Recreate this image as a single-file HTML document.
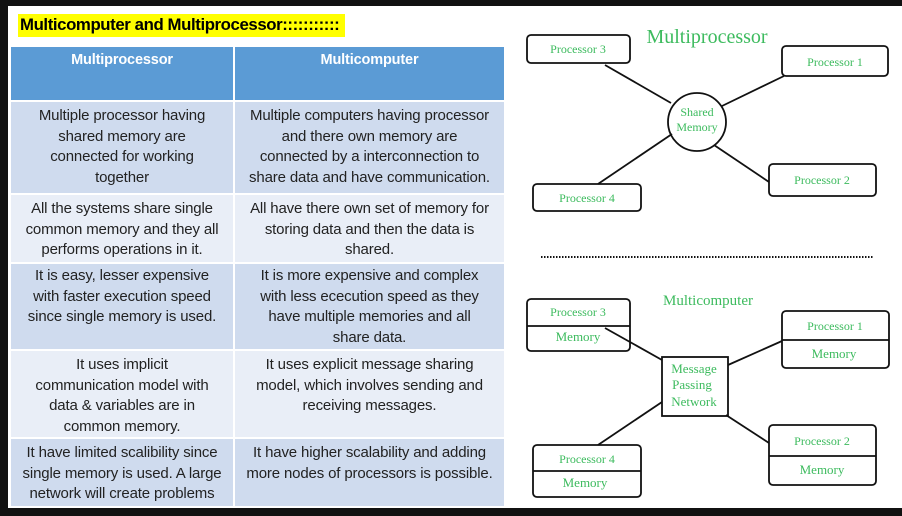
<!DOCTYPE html>
<html><head><meta charset="utf-8"><style>
body{margin:0;width:902px;height:516px;overflow:hidden;background:#111;position:relative;font-family:"Liberation Sans",sans-serif}
.pg{position:absolute;left:8px;top:6px;width:894px;height:502px;background:#fff}
.a{position:absolute}
.c{position:absolute;text-align:center;font-size:15px;line-height:20.5px;color:#222;white-space:nowrap;letter-spacing:-0.15px}
.r{position:absolute;left:11px;width:493px}
.d{background:#cfdbee}.l{background:#e9eef7}
</style></head><body>
<div class="pg"></div>
<div class="a" style="left:18px;top:14px;width:327px;height:23px;background:#ffff00"></div>
<div class="a" style="left:20px;top:15px;font-size:16.8px;font-weight:bold;color:#000;white-space:nowrap;letter-spacing:-0.4px">Multicomputer and Multiprocessor:::::::::::</div>
<div class="r" style="top:47px;height:53px;background:#5b9bd5"></div>
<div class="r d" style="top:102px;height:91px"></div>
<div class="r l" style="top:195px;height:67px"></div>
<div class="r d" style="top:264px;height:85px"></div>
<div class="r l" style="top:351px;height:86px"></div>
<div class="r d" style="top:439px;height:67px"></div>
<div class="a" style="left:233px;top:47px;width:2px;height:459px;background:#fff"></div>
<div class="c" style="left:11px;width:222px;top:50px;color:#fff;font-weight:bold;font-size:14.5px">Multiprocessor</div>
<div class="c" style="left:235px;width:269px;top:50px;color:#fff;font-weight:bold;font-size:14.5px">Multicomputer</div>
<div class="c" style="left:11px;width:222px;top:106px">Multiple processor having<br>shared memory are<br>connected for working<br>together</div>
<div class="c" style="left:235px;width:269px;top:106px">Multiple computers having processor<br>and there own memory are<br>connected by a interconnection to<br>share data and have communication.</div>
<div class="c" style="left:11px;width:222px;top:199px">All the systems share single<br>common memory and they all<br>performs operations in it.</div>
<div class="c" style="left:235px;width:269px;top:199px">All have there own set of memory for<br>storing data and then the data is<br>shared.</div>
<div class="c" style="left:11px;width:222px;top:266px">It is easy, lesser expensive<br>with faster execution speed<br>since single memory is used.</div>
<div class="c" style="left:235px;width:269px;top:266px">It is more expensive and complex<br>with less ececution speed as they<br>have multiple memories and all<br>share data.</div>
<div class="c" style="left:11px;width:222px;top:355px">It uses implicit<br>communication model with<br>data &amp; variables are in<br>common memory.</div>
<div class="c" style="left:235px;width:269px;top:355px">It uses explicit message sharing<br>model, which involves sending and<br>receiving messages.</div>
<div class="c" style="left:11px;width:222px;top:443px">It have limited scalibility since<br>single memory is used. A large<br>network will create problems</div>
<div class="c" style="left:235px;width:269px;top:443px">It have higher scalability and adding<br>more nodes of processors is possible.</div>
<svg class="a" style="left:0;top:0" width="902" height="516" font-family="Liberation Serif,serif" fill="#3dbb5e">
<g stroke="#111" stroke-width="1.8" fill="none">
<line x1="605" y1="65" x2="671" y2="103"/><line x1="784" y1="76" x2="722" y2="106"/>
<line x1="672" y1="134" x2="598" y2="184"/><line x1="714" y1="145" x2="769" y2="182"/>
<rect x="527" y="35" width="103" height="28" rx="4"/>
<rect x="782" y="46" width="106" height="30" rx="4"/>
<rect x="769" y="164" width="107" height="32" rx="4"/>
<rect x="533" y="184" width="108" height="27" rx="4"/>
<circle cx="697" cy="122" r="29"/>
<line x1="605" y1="328" x2="662" y2="360"/><line x1="782" y1="341" x2="728" y2="365"/>
<line x1="662" y1="402" x2="598" y2="445"/><line x1="726" y1="415" x2="769" y2="443"/>
<rect x="527" y="299" width="103" height="52" rx="4"/><line x1="527" y1="326" x2="630" y2="326"/>
<rect x="782" y="311" width="107" height="57" rx="4"/><line x1="782" y1="340" x2="889" y2="340"/>
<rect x="769" y="425" width="107" height="60" rx="4"/><line x1="769" y1="456" x2="876" y2="456"/>
<rect x="533" y="445" width="108" height="52" rx="4"/><line x1="533" y1="471" x2="641" y2="471"/>
<rect x="662" y="357" width="66" height="59"/>
</g>
<line x1="541" y1="257" x2="873" y2="257" stroke="#111" stroke-width="2" stroke-dasharray="1.5 1.5"/>
<g font-size="12" text-anchor="middle">
<text x="707" y="43" font-size="20">Multiprocessor</text>
<text x="578" y="53">Processor 3</text><text x="835" y="66">Processor 1</text>
<text x="822" y="184">Processor 2</text><text x="587" y="202">Processor 4</text>
<text x="697" y="116">Shared</text><text x="697" y="131">Memory</text>
<text x="708" y="305" font-size="15">Multicomputer</text>
<text x="578" y="316">Processor 3</text><text x="578" y="341" font-size="13">Memory</text>
<text x="835" y="330">Processor 1</text><text x="834" y="358" font-size="13">Memory</text>
<text x="822" y="445">Processor 2</text><text x="822" y="474" font-size="13">Memory</text>
<text x="587" y="463">Processor 4</text><text x="585" y="487" font-size="13">Memory</text>
<text x="694" y="373" font-size="13">Message</text><text x="692" y="389" font-size="13">Passing</text><text x="694" y="406" font-size="13">Network</text>
</g></svg>
</body></html>
